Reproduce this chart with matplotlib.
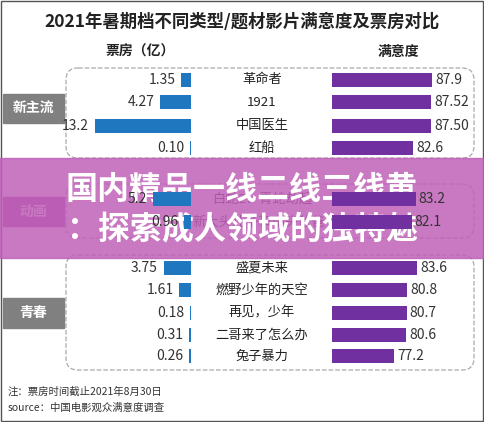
import matplotlib
matplotlib.use("Agg")
import matplotlib.pyplot as plt
from matplotlib.patches import FancyBboxPatch, Rectangle

plt.rcParams['font.family'] = ['Noto Sans CJK SC', 'DejaVu Sans']

films = ["革命者", "1921", "中国医生", "红船", "白蛇2：青蛇劫起", "新大头儿子和小头爸爸4",
         "盛夏未来", "燃野少年的天空", "再见，少年", "二哥来了怎么办", "兔子暴力"]
box_office = [1.35, 4.27, 13.2, 0.10, 5.2, 0.96, 3.75, 1.61, 0.18, 0.31, 0.26]
box_labels = ["1.35", "4.27", "13.2", "0.10", "5.2", "0.96", "3.75", "1.61", "0.18", "0.31", "0.26"]
satisfaction = [87.9, 87.52, 87.50, 82.6, 83.2, 82.1, 83.6, 80.8, 80.7, 80.6, 77.2]
sat_labels = ["87.9", "87.52", "87.50", "82.6", "83.2", "82.1", "83.6", "80.8", "80.7", "80.6", "77.2"]
groups = ["新主流", "动画", "青春"]
row_y = [80, 102, 126, 148, 199, 222, 268, 290, 313, 335, 356]

W, H = 484, 422
fig = plt.figure(figsize=(W/100, H/100), dpi=100)
bg = fig.add_axes([0, 0, 1, 1])
bg.set_xlim(0, W); bg.set_ylim(H, 0); bg.axis('off')

# left bar axes
axl = fig.add_axes([0, 0, 191/W, 1])
axl.set_xlim(191/7.27, 0); axl.set_ylim(H, 0); axl.axis('off')
axl.barh(row_y, box_office, height=14, color='#1f77c0')
for y, v, t in zip(row_y, box_office, box_labels):
    axl.text(v + 0.8, y, t, ha='right', va='center', fontsize=10, color='#333333')

axr = fig.add_axes([332/W, 0, 1 - 332/W, 1])
axr.set_xlim(60, 60 + 152/3.6); axr.set_ylim(H, 0); axr.axis('off')
axr.barh(row_y, satisfaction, height=14, color='#7030a0')
for y, v, t in zip(row_y, satisfaction, sat_labels):
    axr.text(v + 0.9, y, t, ha='left', va='center', fontsize=10, color='#333333')

for y, f in zip(row_y, films):
    bg.text(262, y, f, ha='center', va='center', fontsize=9.5, color='#222222')

bg.add_patch(Rectangle((1, 1), W-2, H-2, fill=False, ec='#555555', lw=1))
bg.text(242, 22, "2021年暑期档不同类型/题材影片满意度及票房对比", ha='center', va='center',
        fontsize=12.5, fontweight='bold', color='#222222')
bg.text(140, 52, "票房（亿）", ha='center', va='center', fontsize=10, fontweight='bold', color='#222222')
bg.text(398, 52, "满意度", ha='center', va='center', fontsize=10, fontweight='bold', color='#222222')

for (y0, y1) in [(68, 158), (184, 238), (255, 370)]:
    bg.add_patch(FancyBboxPatch((66, y0), 408, y1-y0, boxstyle="round,pad=0,rounding_size=12",
                                fill=False, ec='#aaaaaa', ls='--', lw=0.9))
for g, (y0, y1), c in zip(groups, [(94, 123), (197, 226), (298, 328)], ['#808080', '#a050a0', '#808080']):
    bg.add_patch(Rectangle((3, y0), 61, y1-y0, color=c))
    bg.text(33, (y0+y1)/2, g, ha='center', va='center', fontsize=10, fontweight='bold', color='white')

bg.text(8, 392, "注：票房时间截止2021年8月30日", ha='left', va='center', fontsize=7.5, color='#333333')
bg.text(8, 408, "source：中国电影观众满意度调查", ha='left', va='center', fontsize=7.5, color='#333333')

# overlay banner
bg.add_patch(Rectangle((0, 158), W, 100, color='#c060b8', alpha=0.85, zorder=5))
bg.text(242, 190, "国内精品一线二线三线黄", ha='center', va='center', fontsize=23,
        fontweight='bold', color='white', zorder=6)
bg.text(242, 230, "：探索成人领域的独特魅", ha='center', va='center', fontsize=23,
        fontweight='bold', color='white', zorder=6)

fig.savefig("out.png", dpi=100)
